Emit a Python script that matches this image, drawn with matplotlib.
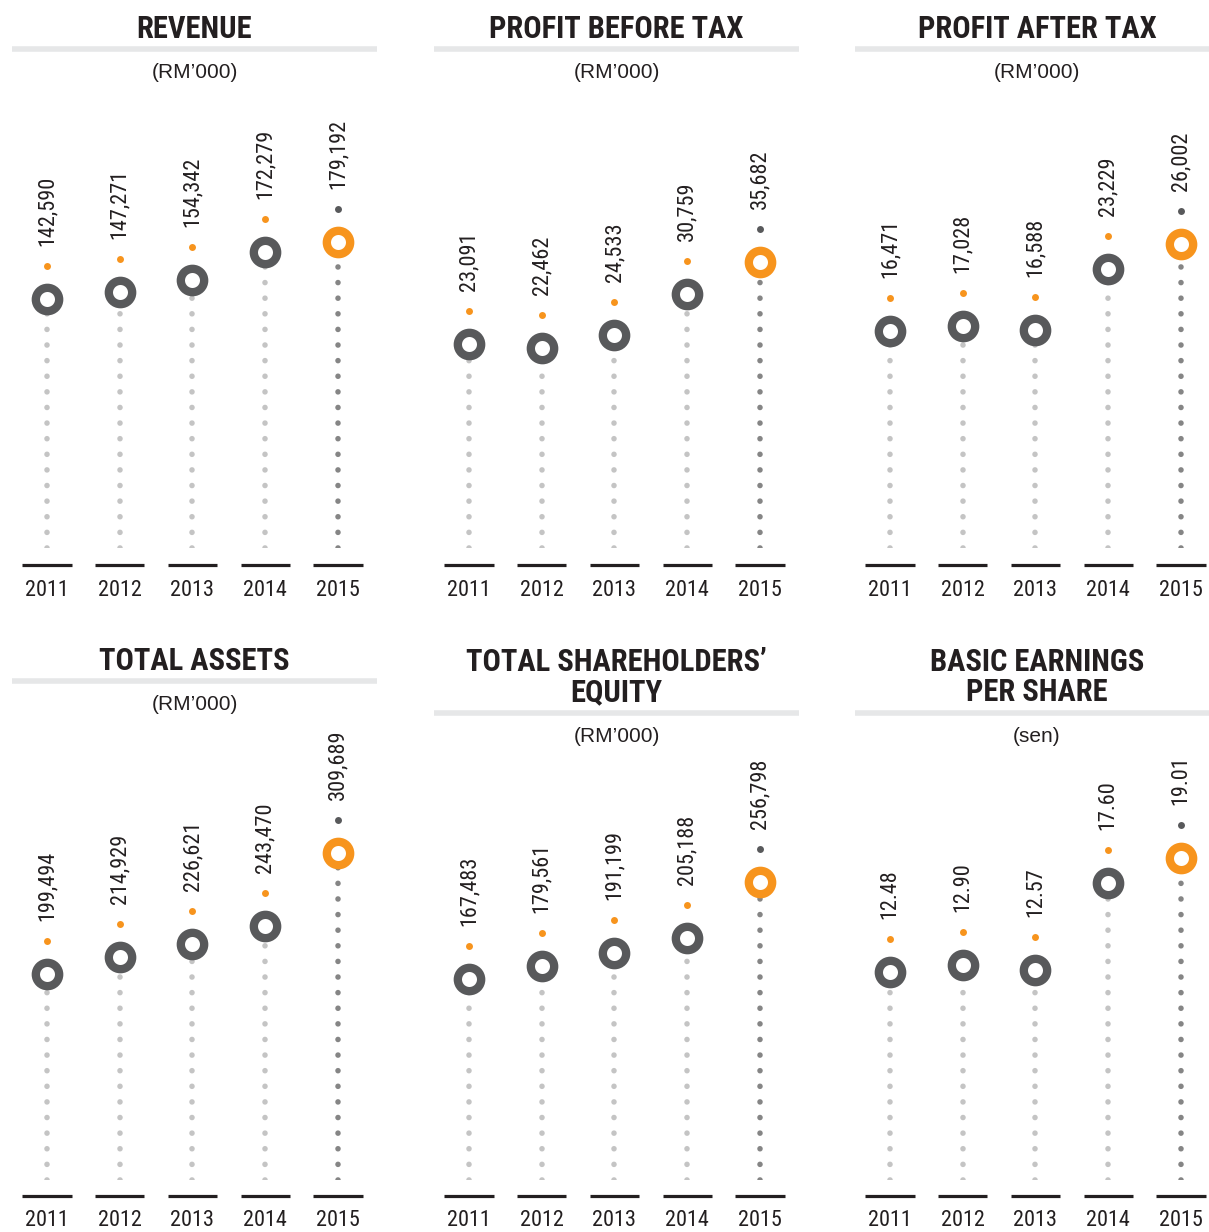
import matplotlib
matplotlib.use("Agg")
import matplotlib.pyplot as plt
from matplotlib import font_manager as fm
from matplotlib import transforms as mtrans
from matplotlib.lines import Line2D

W, H = 1209, 1232

# 字体：优先用窄体
names = {f.name for f in fm.fontManager.ttflist}
NARROW = "DejaVu Sans"
for cand in ["Liberation Sans Narrow", "Roboto Condensed", "Open Sans Condensed"]:
    if cand in names:
        NARROW = cand
        break
REG = "Liberation Sans" if "Liberation Sans" in names else "DejaVu Sans"

# 数据
years = ["2011", "2012", "2013", "2014", "2015"]
revenue = [142590, 147271, 154342, 172279, 179192]
pbt = [23091, 22462, 24533, 30759, 35682]
pat = [16471, 17028, 16588, 23229, 26002]
assets = [199494, 214929, 226621, 243470, 309689]
equity = [167483, 179561, 191199, 205188, 256798]
eps = [12.48, 12.90, 12.57, 17.60, 19.01]

titles = ["REVENUE", "PROFIT BEFORE TAX", "PROFIT AFTER TAX",
          "TOTAL ASSETS", "TOTAL SHAREHOLDERS\u2019\nEQUITY", "BASIC EARNINGS\nPER SHARE"]
units = ["(RM\u2019000)"] * 5 + ["(sen)"]
series = [revenue, pbt, pat, assets, equity, eps]
fmts = ["{:,}"] * 5 + ["{:.2f}"]

# 每个面板的 y 轴范围（底部对应虚线起点）
ylims = [(-16696, 271028), (-8126, 60776), (-7369, 42006),
         (13095, 420741), (-17174, 396315), (0.51, 26.39)]

DARK = "#58595b"
ORANGE = "#f7941d"
LIGHT = "#c4c4c4"
MID = "#858585"
TXT = "#231f20"
RULE = "#e6e7e8"

col_left = [12, 434, 855]
ax_w = 365
rows = [(98, 548), (730, 1180)]


def fx(px):
    return px / W


def fy(py):
    return 1 - py / H


fig = plt.figure(figsize=(W / 100, H / 100), dpi=100)

for k in range(6):
    r, c = divmod(k, 3)
    top, bot = rows[r]
    left = col_left[c]
    ax = fig.add_axes([fx(left), fy(bot), ax_w / W, (bot - top) / H])
    ax.set_xlim(-0.481, 4.536)
    ax.set_ylim(*ylims[k])
    ax.axis("off")
    vals = series[k]
    ylo = ylims[k][0]

    dot_tr = mtrans.offset_copy(ax.transData, fig=fig, x=0, y=33, units="dots")
    for i, v in enumerate(vals):
        last = i == len(vals) - 1
        ring_c = ORANGE if last else DARK
        dot_c = DARK if last else ORANGE
        stem_c = MID if last else LIGHT
        ax.plot([i, i], [ylo, v], color=stem_c, lw=4.0,
                linestyle=(0, (0.01, 2.8)), dash_capstyle="round", zorder=1)
        ax.plot(i, v, "o", ms=16.8, mfc="white", mec=ring_c, mew=6.0, zorder=3)
        ax.plot(i, v, "o", ms=5, color=dot_c, mec="none", transform=dot_tr,
                zorder=3, clip_on=False)
        ax.annotate(fmts[k].format(v), (i, v), xytext=(0, 53 * 0.72),
                    textcoords="offset points", rotation=90, ha="center",
                    va="bottom", fontsize=16, family=NARROW, color=TXT,
                    annotation_clip=False)

    # 年份底线与标签
    btr = mtrans.blended_transform_factory(ax.transData, ax.transAxes)
    base_off = (bot - (565 if r == 0 else 1196)) / (bot - top)
    year_off = (bot - (590 if r == 0 else 1220)) / (bot - top)
    for i, yr in enumerate(years):
        ax.plot([i - 0.337, i + 0.337], [base_off, base_off], color=TXT,
                lw=2.3, solid_capstyle="butt", transform=btr, clip_on=False)
        ax.text(i, year_off, yr, transform=btr, ha="center", va="center",
                fontsize=16, family=NARROW, color=TXT)

    # 标题、分隔线、单位
    cx = left + ax_w / 2 if c < 2 else left + 182
    two = "\n" in titles[k]
    if r == 0:
        t_y, rule_y, u_y = 29, 49, 72
    elif not two:
        t_y, rule_y, u_y = 661, 681, 704
    else:
        t_y, rule_y, u_y = 677, 713, 736
    fig.text(fx(cx), fy(t_y), titles[k], ha="center", va="center",
             fontsize=22, fontweight="bold", family=NARROW, color=TXT,
             linespacing=1.02)
    fig.add_artist(Line2D([fx(left), fx(left + ax_w)], [fy(rule_y)] * 2,
                          color=RULE, lw=4, solid_capstyle="butt"))
    fig.text(fx(cx), fy(u_y), units[k], ha="center", va="center",
             fontsize=15, family=REG, color=TXT)

fig.savefig("out.png", dpi=100, facecolor="white")
